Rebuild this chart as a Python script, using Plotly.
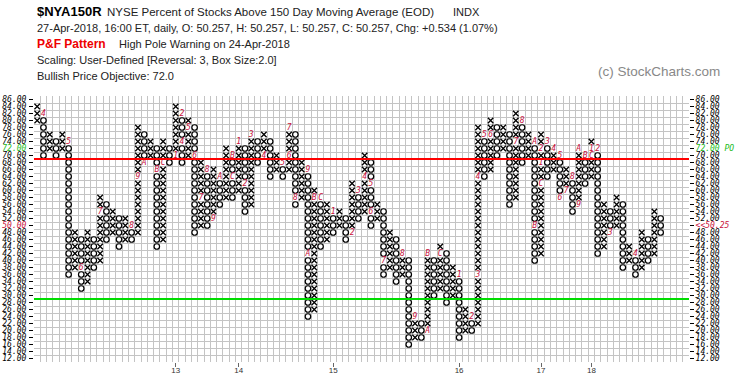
import plotly.graph_objects as go

# ---------------- data ----------------
# one entry per P&F column (X/O alternating): lowest box, highest box
col_kind = "XO" * 50
col_low = [80, 70, 72, 70, 72, 36, 38, 32, 34, 38,
           40, 46, 48, 44, 46, 46, 48, 68, 70, 44,
           46, 68, 70, 68, 70, 48, 50, 50, 52, 56,
           58, 58, 60, 54, 56, 68, 70, 64, 66, 64,
           66, 56, 58, 24, 26, 44, 46, 48, 50, 46,
           48, 52, 54, 50, 52, 36, 38, 34, 36, 16,
           18, 18, 20, 30, 32, 28, 30, 18, 20, 20,
           22, 64, 66, 70, 72, 56, 58, 68, 70, 40,
           42, 64, 66, 58, 60, 54, 56, 62, 64, 42,
           44, 48, 50, 38, 40, 36, 38, 40, 42, 48]
col_high = [84, 82, 76, 74, 76, 74, 48, 46, 48, 46,
            58, 56, 54, 52, 52, 50, 78, 76, 74, 72,
            74, 72, 84, 82, 80, 78, 68, 66, 66, 64,
            72, 70, 74, 72, 76, 74, 76, 74, 70, 68,
            78, 76, 68, 66, 60, 58, 56, 54, 54, 52,
            62, 60, 70, 68, 56, 54, 48, 46, 42, 40,
            24, 22, 42, 40, 44, 42, 38, 36, 26, 24,
            78, 76, 80, 78, 78, 76, 82, 80, 76, 74,
            76, 74, 72, 70, 66, 64, 72, 70, 74, 72,
            56, 54, 58, 56, 44, 42, 48, 46, 54, 52]

# month markers (1-9, A=Oct, B=Nov, C=Dec): column, box, code
mark_col = [1, 5, 7, 10, 15, 16, 17, 19, 20,
            22, 23, 23, 24, 25, 26, 27, 28, 29, 31, 31,
            32, 33, 34, 36, 39, 40, 40, 41, 43, 43, 44, 45,
            47, 50, 51, 52, 53, 53, 55, 58, 60, 62, 62, 64,
            67, 69, 70, 70, 71, 72, 76, 77, 79, 79, 80,
            80, 80, 81, 82, 83, 83, 84, 85, 86, 86, 87, 88,
            88, 89, 91, 95]
mark_val = [82, 74, 38, 54, 50, 64, 68, 66, 68,
            70, 82, 74, 78, 70, 58, 66, 52, 64, 70, 64,
            74, 62, 76, 70, 68, 70, 78, 58, 66, 42, 58, 58,
            54, 48, 60, 64, 62, 54, 40, 42, 24, 20, 42, 42,
            36, 24, 36, 64, 76, 76, 74, 80, 74, 50, 62,
            68, 72, 74, 72, 70, 58, 60, 64, 56, 72, 70, 70,
            72, 72, 48, 42]
mark_txt = ["4", "5", "6", "7", "8", "9", "A", "B", "C",
            "1", "2", "4", "5", "6", "7", "8", "9", "A", "B", "C",
            "1", "2", "3", "4", "5", "6", "7", "8", "9", "A", "B", "C",
            "1", "2", "3", "4", "5", "6", "7", "8", "9", "A", "B", "C",
            "1", "2", "3", "4", "5", "6", "7", "8", "A", "B", "C",
            "1", "2", "3", "4", "5", "6", "7", "8", "9", "A", "B", "C",
            "1", "2", "3", "4"]

year_cols = [22, 32, 47, 67, 80, 88]
year_txt = ["13", "14", "15", "16", "17", "18"]

box_vals = list(range(12, 88, 2))
overbought = 69
oversold = 29
objective = 72
last_price = 50.25
NCOL = 104

# ---------------- build glyph lists ----------------
marks = {(c, v): t for c, v, t in zip(mark_col, mark_val, mark_txt)}
xs_x, ys_x, xs_o, ys_o = [], [], [], []
for i in range(len(col_low)):
    kind = col_kind[i]
    for v in range(col_low[i], col_high[i] + 1, 2):
        if (i, v) in marks:
            continue
        if kind == "X":
            xs_x.append(i); ys_x.append(v)
        else:
            xs_o.append(i); ys_o.append(v)

mark_font = dict(family="DejaVu Sans Mono", size=8, color="#c8103c")

fig = go.Figure()
fig.add_trace(go.Scatter(x=xs_x, y=ys_x, mode="markers",
                         marker=dict(symbol="x-thin-open", size=5.5, color="black",
                                     line=dict(width=1.3, color="black")),
                         hoverinfo="skip", showlegend=False))
fig.add_trace(go.Scatter(x=xs_o, y=ys_o, mode="markers",
                         marker=dict(symbol="circle-open", size=5.5, color="black",
                                     line=dict(width=1.2, color="black")),
                         hoverinfo="skip", showlegend=False))
fig.add_trace(go.Scatter(x=mark_col, y=mark_val, mode="text",
                         text=["<i>%s</i>" % t for t in mark_txt],
                         textfont=mark_font, hoverinfo="skip", showlegend=False))
# invisible trace carrying the right-hand axis
fig.add_trace(go.Scatter(x=[0], y=[50], yaxis="y2", mode="markers",
                         marker=dict(opacity=0), hoverinfo="skip", showlegend=False))

# 70 / 30 signal lines
fig.add_shape(type="line", xref="paper", x0=0, x1=1, yref="y", y0=overbought, y1=overbought,
              line=dict(color="#ff0000", width=2))
fig.add_shape(type="line", xref="paper", x0=0, x1=1, yref="y", y0=oversold, y1=oversold,
              line=dict(color="#00dd00", width=2))

def left_label(v):
    s = "%.2f" % v
    if v == objective:
        return "<span style='color:#22bb22'><i>%s</i></span>" % s
    if v == 50:
        return "<span style='color:#c8103c'><i>%s</i></span>" % s
    return "<i>%s</i>" % s

def right_label(v):
    s = "%.2f" % v
    if v == objective:
        return "<span style='color:#22bb22'><i>%s PO</i></span>" % s
    if v == 50:
        return "<span style='color:#c8103c'><i>&lt;&lt;%.2f</i></span>" % last_price
    return "<i>%s</i>" % s

tick_font = dict(family="DejaVu Sans Mono", size=8, color="black")
grid_col = "#c4c4c4"

W, H, L, R, T, B = 745, 383, 34, 56, 96, 21

fig.update_layout(
    width=W, height=H,
    margin=dict(l=L, r=R, t=T, b=B, autoexpand=False),
    paper_bgcolor="white", plot_bgcolor="white",
    xaxis=dict(range=[-0.5, NCOL - 0.5], tickmode="array", tickvals=year_cols, ticktext=year_txt,
               ticks="outside", ticklen=4, tickcolor="#666", showgrid=False, zeroline=False,
               tickfont=dict(family="Liberation Sans", size=8, color="#333"),
               ticklabelstandoff=-4,
               minor=dict(tick0=-0.5, dtick=1, showgrid=True, gridcolor=grid_col, gridwidth=1),
               showline=False, fixedrange=True, automargin=False),
    yaxis=dict(range=[11, 87], tickmode="array", tickvals=box_vals,
               ticktext=[left_label(v) for v in box_vals], ticks="outside", ticklen=4,
               tickcolor="black", showgrid=False, zeroline=False, tickfont=tick_font,
               minor=dict(tick0=11, dtick=2, showgrid=True, gridcolor=grid_col, gridwidth=1),
               ticklabelstandoff=1, fixedrange=True, automargin=False),
    yaxis2=dict(range=[11, 87], overlaying="y", side="right", tickmode="array", tickvals=box_vals,
                ticktext=[right_label(v) for v in box_vals], ticks="outside", ticklen=4,
                tickcolor="black", showgrid=False, zeroline=False, tickfont=tick_font,
                fixedrange=True, automargin=False),
)

def px(x):
    return (x - L) / (W - L - R)
def py(y):
    return (H - B - y) / (H - T - B)

head = "Liberation Sans"
ann = [
    (35, 12, "<b>$NYA150R</b>", 13, "black"),
    (105, 12, "NYSE Percent of Stocks Above 150 Day Moving Average (EOD)", 11.5, "#222"),
    (451, 12, "INDX", 11, "#222"),
    (35, 28, "27-Apr-2018, 16:00 ET, daily, O: 50.257, H: 50.257, L: 50.257, C: 50.257, Chg: +0.534 (1.07%)", 11, "#222"),
    (35, 44, "<b>P&amp;F Pattern</b>", 12, "#ee0000"),
    (117, 44, "High Pole Warning on 24-Apr-2018", 11, "#222"),
    (35, 60, "Scaling: User-Defined [Reversal: 3, Box Size:2.0]", 11, "#222"),
    (35, 76, "Bullish Price Objective: 72.0", 11, "#222"),
    (596, 71, "(c) StockCharts.com", 13.5, "#888"),
]
for x, y, t, s, c in ann:
    fig.add_annotation(x=px(x), y=py(y), xref="paper", yref="paper", text=t, showarrow=False,
                       xanchor="left", yanchor="middle", font=dict(family=head, size=s, color=c))

fig.write_html("out.html", config={"displayModeBar": False},
               post_script="document.body.style.margin='0px';")
